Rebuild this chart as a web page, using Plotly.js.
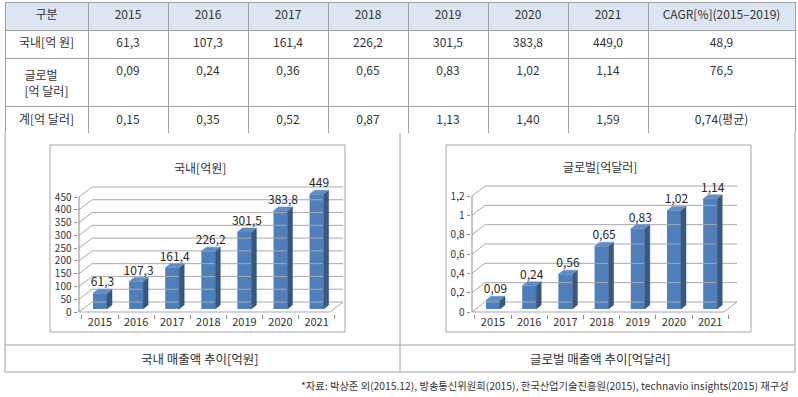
<!DOCTYPE html>
<html>
<head>
<meta charset="utf-8">
<script src="https://cdn.plot.ly/plotly-3.0.1.min.js"></script>
<style>
html,body{margin:0;padding:0;background:#fff;}
#chart{width:798px;height:397px;}
</style>
</head>
<body>
<div id="chart"></div>
<script>
// ---------- data ----------
const years = ['2015','2016','2017','2018','2019','2020','2021'];
const domestic = [61.3, 107.3, 161.4, 226.2, 301.5, 383.8, 449.0];
const globalSales = [0.09, 0.24, 0.36, 0.65, 0.83, 1.02, 1.14];
const totalSales = [0.15, 0.35, 0.52, 0.87, 1.13, 1.40, 1.59];
const cagrCol = ['48,9', '76,5', '0,74(평균)'];
const rowHeads = ['국내[억 원]', '글로벌<br>[억 달러]', '계[억 달러]'];
const headerLabels = ['구분'].concat(years).concat(['CAGR[%](2015–2019)']);
const domesticLabels = ['61,3','107,3','161,4','226,2','301,5','383,8','449'];
const globalLabels = ['0,09','0,24','0,56','0,65','0,83','1,02','1,14'];
const domesticTicks = [0,50,100,150,200,250,300,350,400,450];
const globalTicks = [0,0.2,0.4,0.6,0.8,1,1.2];

// ---------- helpers ----------
const W = 798, H = 397;
const px = x => x / W;
const py = y => 1 - y / H;
const FONT = '"Noto Sans CJK KR", "Noto Sans", sans-serif';
const TXT = '#333333';
const GRID = '#a8a8a8';
const FRAME = '#a0a0a0';
const fmt = (v, d) => v.toFixed(d).replace('.', ',');

// ---------- table ----------
const cellCols = [rowHeads];
years.forEach((y, i) => {
  cellCols.push([fmt(domestic[i], 1), fmt(globalSales[i], 2), fmt(totalSales[i], 2)]);
});
cellCols.push(cagrCol);

const traces = [];
traces.push({
  type: 'table',
  domain: {x: [px(5), px(795)], y: [py(133), py(2)]},
  columnwidth: [83, 80, 80, 80, 80, 80, 80, 80, 147],
  header: {
    values: headerLabels,
    align: 'center',
    height: 28,
    fill: {color: '#dce6f2'},
    line: {color: FRAME, width: 1},
    font: {family: FONT, size: 12, color: TXT}
  },
  cells: {
    values: cellCols,
    align: 'center',
    height: 28,
    fill: {color: '#ffffff'},
    line: {color: FRAME, width: 1},
    font: {family: FONT, size: 12, color: TXT}
  }
});

// ---------- 3D-like bar charts ----------
const layout = {
  width: W, height: H,
  margin: {l: 0, r: 0, t: 0, b: 0},
  paper_bgcolor: '#ffffff',
  plot_bgcolor: 'rgba(0,0,0,0)',
  showlegend: false,
  separators: ',.',
  font: {family: FONT, color: TXT},
  shapes: [],
  annotations: []
};

function buildChart(cfg) {
  const pad = 1.5;
  const pxPerY = (cfg.frontBottom - cfg.topTickY) / cfg.maxTick;
  const topPx = cfg.topTickY - cfg.wallDy;
  const ddx = cfg.wallDx / cfg.spacing;
  const ddy = cfg.wallDy / pxPerY;
  const x0 = -cfg.firstOffset / cfg.spacing;
  const x1 = (cfg.backRight - cfg.axisX - cfg.firstOffset) / cfg.spacing;
  const yTop = (cfg.frontBottom - topPx) / pxPerY;
  const padX = pad / cfg.spacing, padY = pad / pxPerY;

  const ax = cfg.xa, ay = cfg.ya;
  const xKey = ax === 'x' ? 'xaxis' : 'xaxis' + ax.slice(1);
  const yKey = ay === 'y' ? 'yaxis' : 'yaxis' + ay.slice(1);

  layout[xKey] = {
    domain: [px(cfg.axisX - pad), px(cfg.backRight + pad)],
    range: [x0 - padX, x1 + padX],
    anchor: ay,
    tickmode: 'array', tickvals: cfg.cats.map((c, i) => i), ticktext: cfg.cats,
    ticks: '', showgrid: false, zeroline: false, showline: false,
    tickfont: {family: FONT, size: 11, color: TXT},
    minor: {tickmode: 'array', tickvals: cfg.cats.map((c, i) => i - 0.5).concat([cfg.cats.length - 0.5]),
            ticks: 'outside', ticklen: 4, tickcolor: '#888', tickwidth: 1, showgrid: false},
    fixedrange: true
  };
  layout[yKey] = {
    domain: [py(cfg.frontBottom + pad), py(topPx - pad)],
    range: [-padY, yTop + padY],
    anchor: ax,
    tickmode: 'array', tickvals: cfg.ticks,
    ticks: 'outside', ticklen: 3, tickcolor: '#888',
    showgrid: false, zeroline: false, showline: false,
    tickfont: {family: FONT, size: 10, color: TXT},
    fixedrange: true
  };

  // walls / gridlines
  const gx = [], gy = [];
  cfg.ticks.forEach(t => {
    gx.push(x0, x0 + ddx, x1, null);
    gy.push(t, t + ddy, t + ddy, null);
  });
  gx.push(x0, x1 - ddx, x1, null);
  gy.push(0, 0, ddy, null);
  traces.push({type: 'scatter', mode: 'lines', x: gx, y: gy, xaxis: ax, yaxis: ay,
    line: {color: GRID, width: 1}, hoverinfo: 'skip'});
  // front vertical axis line
  traces.push({type: 'scatter', mode: 'lines', x: [x0, x0], y: [0, cfg.maxTick], xaxis: ax, yaxis: ay,
    line: {color: '#8c8c8c', width: 1}, hoverinfo: 'skip'});

  // bars
  const bw = cfg.barW / cfg.spacing;
  const bdx = cfg.barDx / cfg.spacing;
  const bdy = cfg.barDy / pxPerY;
  const base = cfg.barBase / pxPerY;
  const xs = cfg.cats.map((c, i) => i);

  const sx = [], sy = [], tx = [], ty = [];
  cfg.vals.forEach((v, i) => {
    const r = i + bw / 2, l = i - bw / 2;
    sx.push(r, r, r + bdx, r + bdx, r, null);
    sy.push(base, base + v, base + v + bdy, base + bdy, base, null);
    tx.push(l, r, r + bdx, l + bdx, l, null);
    ty.push(base + v, base + v, base + v + bdy, base + v + bdy, base + v, null);
  });
  traces.push({type: 'scatter', mode: 'lines', x: sx, y: sy, xaxis: ax, yaxis: ay,
    fill: 'toself', fillcolor: '#36577f', line: {color: '#36577f', width: 0.5}, hoverinfo: 'skip'});
  traces.push({type: 'bar', x: xs, y: cfg.vals, base: base, width: bw, xaxis: ax, yaxis: ay,
    marker: {color: '#4f7fba', line: {width: 0}}, hoverinfo: 'skip'});
  traces.push({type: 'scatter', mode: 'lines', x: tx, y: ty, xaxis: ax, yaxis: ay,
    fill: 'toself', fillcolor: '#5f8dc6', line: {color: '#5f8dc6', width: 0.5}, hoverinfo: 'skip'});
  // value labels
  traces.push({type: 'scatter', mode: 'text', x: xs.map(i => i + bdx / 2),
    y: cfg.vals.map(v => base + v + bdy), text: cfg.labels, textposition: 'top center',
    textfont: {family: FONT, size: 12, color: '#262626'}, cliponaxis: false,
    xaxis: ax, yaxis: ay, hoverinfo: 'skip'});

  // chart box + title
  layout.shapes.push({type: 'rect', xref: 'paper', yref: 'paper',
    x0: px(cfg.box[0]), x1: px(cfg.box[2]), y0: py(cfg.box[3]), y1: py(cfg.box[1]),
    line: {color: '#a6a6a6', width: 1}, fillcolor: 'rgba(0,0,0,0)', layer: 'below'});
  layout.annotations.push({xref: 'paper', yref: 'paper', x: px(cfg.titleX), y: py(cfg.titleY),
    text: cfg.title, showarrow: false, xanchor: 'center', yanchor: 'middle',
    font: {family: FONT, size: 12, color: TXT}});
}

buildChart({xa: 'x', ya: 'y', cats: years, vals: domestic, labels: domesticLabels, ticks: domesticTicks,
  maxTick: 450, axisX: 79, backRight: 343, frontBottom: 312, topTickY: 197,
  spacing: 36.1, firstOffset: 21, wallDx: 13, wallDy: 10,
  barW: 14, barDx: 5, barDy: 4, barBase: 3,
  box: [50, 145, 345, 332], title: '국내[억원]', titleX: 200, titleY: 167});

buildChart({xa: 'x2', ya: 'y2', cats: years, vals: globalSales, labels: globalLabels, ticks: globalTicks,
  maxTick: 1.2, axisX: 472, backRight: 737, frontBottom: 312, topTickY: 196,
  spacing: 36.2, firstOffset: 21, wallDx: 13, wallDy: 10,
  barW: 14, barDx: 5, barDy: 4, barBase: 3,
  box: [446, 145, 751, 332], title: '글로벌[억달러]', titleX: 600, titleY: 166});

// ---------- frame lines below the table ----------
const frameLines = [
  [5, 133, 5, 372], [795, 133, 795, 372], [400, 133, 400, 372],
  [5, 345, 795, 345], [5, 372, 795, 372]
];
frameLines.forEach(l => layout.shapes.push({type: 'line', xref: 'paper', yref: 'paper',
  x0: px(l[0]), y0: py(l[1]), x1: px(l[2]), y1: py(l[3]), line: {color: FRAME, width: 1}}));

layout.annotations.push(
  {xref: 'paper', yref: 'paper', x: px(200), y: py(358), text: '국내 매출액 추이[억원]', showarrow: false,
   xanchor: 'center', yanchor: 'middle', font: {family: FONT, size: 12.5, color: TXT}},
  {xref: 'paper', yref: 'paper', x: px(600), y: py(358), text: '글로벌 매출액 추이[억달러]', showarrow: false,
   xanchor: 'center', yanchor: 'middle', font: {family: FONT, size: 12.5, color: TXT}},
  {xref: 'paper', yref: 'paper', x: px(791), y: py(385),
   text: '*자료: 박상준 외(2015.12), 방송통신위원회(2015), 한국산업기술진흥원(2015), technavio insights(2015) 재구성',
   showarrow: false, xanchor: 'right', yanchor: 'middle', font: {family: FONT, size: 10.3, color: TXT}}
);

Plotly.newPlot('chart', traces, layout, {displayModeBar: false, staticPlot: true});
</script>
</body>
</html>
